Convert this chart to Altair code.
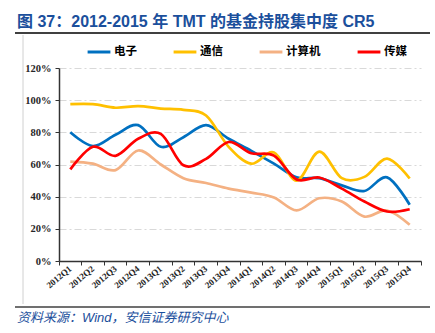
import altair as alt
import pandas as pd

# ---- data (in %) ----
quarters = ["2012Q1", "2012Q2", "2012Q3", "2012Q4",
            "2013Q1", "2013Q2", "2013Q3", "2013Q4",
            "2014Q1", "2014Q2", "2014Q3", "2014Q4",
            "2015Q1", "2015Q2", "2015Q3", "2015Q4"]
series_names = ["电子", "通信", "计算机", "传媒"]
dianzi = [80, 71.5, 78.5, 84.5, 71, 77, 84.5, 76, 68.5, 60.5, 52, 51.5, 47, 43.5, 52, 35]
tongxin = [97.5, 97.5, 95.3, 96.3, 94.8, 94, 90.5, 71, 60.5, 67.5, 50, 68, 51.5, 52.3, 63.7, 51.3]
jisuanji = [61.8, 60.5, 56.5, 68.7, 60, 51.5, 48.5, 45, 42.5, 39.5, 31.5, 39, 37, 27.6, 31.4, 22.5]
chuanmei = [57, 71, 65.4, 76, 79, 59.5, 63.5, 74, 67, 65.5, 50.7, 51.9, 45, 37, 30.8, 32.2]
y_ticks = [0, 0.2, 0.4, 0.6, 0.8, 1.0, 1.2]

title_text = "图 37：2012-2015 年 TMT 的基金持股集中度 CR5"
source_text = "资料来源：Wind，安信证券研究中心"

colors = ["#0070C0", "#FFC000", "#F4B183", "#FF0000"]

rows = []
for name, vals in zip(series_names, [dianzi, tongxin, jisuanji, chuanmei]):
    for q, v in zip(quarters, vals):
        rows.append({"quarter": q, "series": name, "value": v / 100.0})
df = pd.DataFrame(rows)

W, H = 362, 193

lines = alt.Chart(df).mark_line(interpolate="cardinal", strokeWidth=2.7).encode(
    x=alt.X("quarter:O", sort=quarters, bandPosition=0.5,
            scale=alt.Scale(type="band", paddingInner=0, paddingOuter=0),
            axis=alt.Axis(title=None, labelAngle=-40, labelAlign="right",
                          labelBaseline="middle", labelFont="Liberation Serif",
                          labelFontWeight="bold", labelFontSize=9, labelColor="#262626",
                          labelPadding=2, tickSize=4, tickColor="#333333",
                          bandPosition=1, tickExtra=True,
                          domainColor="#333333", domainWidth=1.5, grid=False)),
    y=alt.Y("value:Q", scale=alt.Scale(domain=[0, 1.2], nice=False),
            axis=alt.Axis(title=None, values=y_ticks, format=".0%",
                          labelFont="Liberation Serif", labelFontWeight="bold",
                          labelFontSize=10.5, labelColor="#262626", labelPadding=4,
                          tickSize=4, tickColor="#333333",
                          domainColor="#333333", domainWidth=1.5,
                          grid=True, gridColor="#D9D9D9", gridWidth=1,
                          gridDash=[7, 3, 2, 3])),
    color=alt.Color("series:N", sort=series_names,
                    scale=alt.Scale(domain=series_names, range=colors),
                    legend=alt.Legend(title=None, orient="none", direction="horizontal",
                                      legendX=27, legendY=-29, symbolType="stroke",
                                      symbolStrokeWidth=3, symbolSize=520,
                                      labelFont="Noto Sans CJK SC", labelFontSize=11.5,
                                      labelFontWeight="bold", labelColor="#000000",
                                      columnPadding=30, labelOffset=2)),
)

one = pd.DataFrame({"k": [0]})

rule_top = alt.Chart(one).mark_rule(color="#404040", strokeWidth=2).encode(
    x=alt.value(-44), x2=alt.value(371), y=alt.value(-35))
rule_bottom = alt.Chart(one).mark_rule(color="#404040", strokeWidth=1.5).encode(
    x=alt.value(-44), x2=alt.value(371), y=alt.value(239))
rule_left = alt.Chart(one).mark_rule(color="#D0D0D0", strokeWidth=1).encode(
    x=alt.value(-36), y=alt.value(-33), y2=alt.value(236))

title = alt.Chart(pd.DataFrame({"t": [title_text]})).mark_text(
    align="left", baseline="alphabetic", font="Liberation Sans, Noto Sans CJK SC",
    fontSize=16, fontWeight="bold", color="#1B4F9C").encode(
    x=alt.value(-42), y=alt.value(-41), text="t:N")

source = alt.Chart(pd.DataFrame({"t": [source_text]})).mark_text(
    align="left", baseline="middle", font="Liberation Sans, Noto Sans CJK SC",
    fontSize=13, fontStyle="italic", color="#1B4F9C").encode(
    x=alt.value(-42), y=alt.value(250), text="t:N")

chart = alt.layer(lines, rule_top, rule_bottom, rule_left, title, source).properties(
    width=W, height=H,
    padding={"left": 59, "top": 68, "right": 14, "bottom": 72},
    autosize=alt.AutoSizeParams(type="none"),
).configure_view(stroke=None)

chart.save("out.html", embed_options={"renderer": "svg", "actions": False})
